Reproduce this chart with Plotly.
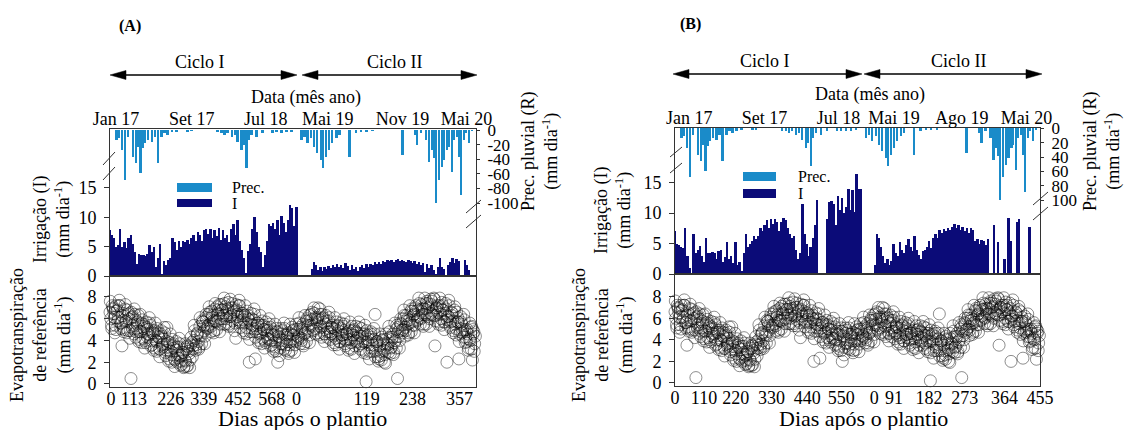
import plotly.graph_objects as go

W, H = 1124, 430
FONT = "Liberation Serif, Times New Roman, serif"
C_PREC = "#1A8BC9"
C_IRR = "#0B0B78"
C_LINE = "#333333"

# ---------------- DATA ----------------
# Day index counted from the start of the record (Jan 2017)
et_day_1 = list(range(0, 1221, 5))
et_value_1 = [
    6.6, 5.4, 7.0, 6.1, 5.0, 6.8, 7.2, 5.6, 3.5, 5.2,
    6.9, 5.8, 4.9, 6.5, 0.5, 6.2, 4.6, 5.9, 5.1, 6.3,
    4.8, 5.6, 4.2, 5.3, 3.8, 5.0, 4.5, 5.4, 3.6, 4.7,
    4.9, 3.9, 4.4, 3.2, 4.6, 3.6, 4.1, 2.9, 5.2, 3.4,
    3.8, 2.7, 3.5, 2.3, 3.1, 2.0, 3.4, 2.6, 1.8, 2.9,
    2.2, 3.2, 1.7, 2.8, 3.6, 2.5, 4.0, 3.3, 4.6, 3.9,
    5.3, 4.4, 5.7, 4.9, 6.1, 5.2, 6.4, 5.5, 6.7, 5.8,
    6.9, 5.7, 6.5, 7.3, 6.0, 6.8, 5.5, 7.1, 6.3, 7.5,
    6.2, 7.0, 5.8, 6.7, 4.2, 6.4, 7.2, 5.6, 6.5, 5.9,
    6.3, 5.2, 6.0, 2.0, 5.5, 4.8, 5.9, 2.3, 5.1, 5.6,
    4.6, 5.4, 4.2, 5.0, 3.8, 4.9, 4.1, 5.2, 3.6, 4.5,
    3.4, 4.8, 2.0, 4.3, 3.7, 4.9, 3.2, 4.5, 3.9, 4.7,
    3.6, 4.6, 4.1, 5.0, 3.9, 4.8, 4.3, 5.2, 4.0, 5.5,
    4.6, 5.8, 5.1, 6.3, 5.4, 6.6, 4.9, 6.1, 5.7, 7.0,
    6.4, 5.2, 6.0, 4.6, 5.5, 4.3, 5.8, 4.8, 5.2, 4.4,
    5.1, 4.2, 5.4, 3.9, 4.8, 4.5, 5.3, 3.7, 4.6, 4.1,
    4.9, 3.8, 4.5, 5.0, 4.0, 4.7, 3.5, 4.4, 5.1, 3.9,
    4.6, 0.2, 3.9, 3.6, 4.6, 3.0, 4.1, 6.4, 3.9, 2.5,
    3.5, 2.6, 4.0, 3.1, 1.9, 3.7, 2.9, 4.3, 3.4, 4.6,
    3.8, 5.0, 0.5, 4.4, 5.6, 4.9, 6.0, 5.2, 6.3, 5.5,
    5.9, 6.7, 5.4, 6.4, 7.0, 5.8, 6.8, 6.1, 7.3, 6.4,
    6.9, 7.4, 6.2, 7.1, 6.5, 7.6, 6.3, 3.5, 7.0, 6.6,
    7.2, 6.0, 6.8, 5.7, 6.5, 2.0, 6.2, 5.4, 6.6, 5.8,
    6.8, 5.1, 5.7, 2.3, 4.8, 5.5, 4.3, 5.0, 3.9, 4.6,
    4.1, 5.2, 2.2, 4.8, 4.4,
]
et_day_2 = [d + 2.5 for d in range(0, 1220, 5)]
et_value_2 = [
    6.0, 7.2, 6.5, 5.4, 6.7, 6.1, 7.2, 5.6, 6.5, 5.0,
    5.7, 6.8, 6.0, 4.9, 6.1, 5.4, 6.4, 4.8, 5.7, 4.1,
    4.8, 5.9, 5.1, 4.0, 5.2, 4.6, 5.6, 4.0, 4.9, 3.3,
    4.0, 5.1, 4.3, 3.2, 4.4, 3.7, 4.7, 3.1, 3.9, 2.3,
    3.0, 4.1, 3.3, 2.2, 3.4, 2.7, 3.7, 2.1, 2.9, 1.6,
    2.1, 3.5, 3.0, 2.2, 3.8, 3.5, 4.9, 3.6, 4.7, 3.4,
    4.5, 5.8, 5.3, 4.4, 5.9, 5.4, 6.6, 5.3, 6.3, 4.9,
    5.8, 7.1, 6.4, 5.5, 6.8, 6.3, 7.4, 6.0, 6.9, 5.5,
    6.2, 7.4, 6.6, 5.6, 6.8, 6.2, 7.2, 5.7, 6.5, 4.9,
    5.6, 6.7, 5.9, 4.8, 6.0, 5.4, 6.4, 4.8, 5.6, 4.0,
    4.7, 5.8, 5.0, 4.0, 5.2, 4.5, 5.5, 4.0, 4.8, 3.2,
    3.9, 5.1, 4.4, 3.3, 4.6, 4.0, 5.1, 3.6, 4.5, 3.0,
    3.9, 5.2, 4.5, 3.6, 5.0, 4.4, 5.6, 4.2, 5.1, 3.7,
    4.7, 6.0, 5.4, 4.5, 5.9, 5.3, 6.5, 5.1, 6.1, 4.7,
    5.3, 6.4, 5.7, 4.6, 5.8, 5.1, 6.1, 4.6, 5.4, 3.8,
    4.5, 5.7, 4.9, 3.9, 5.1, 4.5, 5.5, 4.0, 4.8, 3.3,
    4.1, 5.3, 4.5, 3.5, 4.8, 4.2, 5.2, 3.7, 4.6, 3.1,
    3.8, 4.9, 4.1, 3.0, 4.3, 3.6, 4.6, 3.0, 3.9, 2.3,
    3.0, 4.3, 3.7, 2.7, 4.1, 3.6, 4.8, 3.3, 4.3, 2.9,
    4.0, 5.4, 4.8, 4.0, 5.5, 5.0, 6.3, 4.9, 6.0, 4.7,
    5.6, 6.9, 6.3, 5.4, 6.7, 6.2, 7.4, 6.0, 6.9, 5.5,
    6.4, 7.6, 7.0, 6.0, 7.3, 6.7, 7.8, 6.3, 7.2, 5.7,
    6.4, 7.5, 6.8, 5.7, 6.9, 6.2, 7.2, 5.7, 6.5, 4.9,
    5.5, 6.6, 5.7, 4.6, 5.7, 5.0, 5.9, 4.3, 5.0, 3.3,
    4.0, 5.3, 4.6, 3.7,
]
et_day_3 = [d + 1 for d in range(0, 1220, 5)]
et_value_3 = [
    7.6, 5.1, 6.9, 4.7, 7.2, 5.8, 7.7, 5.1, 6.3, 4.8,
    7.3, 4.7, 6.4, 4.2, 6.6, 5.1, 6.9, 4.3, 5.5, 3.9,
    6.4, 3.8, 5.5, 3.3, 5.7, 4.3, 6.1, 3.5, 4.7, 3.1,
    5.6, 3.0, 4.7, 2.5, 4.9, 3.4, 5.2, 2.6, 3.7, 2.1,
    4.6, 2.0, 3.7, 1.6, 3.9, 2.4, 4.2, 1.7, 2.7, 1.5,
    3.7, 1.6, 3.4, 1.5, 4.3, 3.2, 5.4, 3.1, 4.5, 3.2,
    6.1, 3.7, 5.7, 3.7, 6.4, 5.1, 7.1, 4.8, 6.1, 4.7,
    7.4, 5.0, 6.8, 4.8, 7.3, 6.0, 7.9, 5.5, 6.7, 5.3,
    7.8, 5.3, 7.0, 4.9, 7.3, 5.9, 7.7, 5.2, 6.3, 4.7,
    7.2, 4.6, 6.3, 4.1, 6.5, 5.1, 6.9, 4.3, 5.4, 3.8,
    6.3, 3.7, 5.4, 3.3, 5.7, 4.2, 6.0, 3.5, 4.6, 3.0,
    5.5, 3.0, 4.8, 2.6, 5.1, 3.7, 5.6, 3.1, 4.3, 2.8,
    5.5, 3.1, 4.9, 2.9, 5.5, 4.1, 6.1, 3.7, 4.9, 3.5,
    6.3, 3.9, 5.8, 3.8, 6.4, 5.0, 7.0, 4.6, 5.9, 4.5,
    6.9, 4.3, 6.1, 3.9, 6.3, 4.8, 6.6, 4.1, 5.2, 3.6,
    6.1, 3.6, 5.3, 3.2, 5.6, 4.2, 6.0, 3.5, 4.6, 3.1,
    5.7, 3.2, 4.9, 2.8, 5.3, 3.9, 5.7, 3.2, 4.4, 2.9,
    5.4, 2.8, 4.5, 2.3, 4.8, 3.3, 5.1, 2.5, 3.7, 2.1,
    4.6, 2.2, 4.1, 2.0, 4.6, 3.3, 5.3, 2.8, 4.1, 2.7,
    5.6, 3.3, 5.2, 3.3, 6.0, 4.7, 6.8, 4.4, 5.8, 4.5,
    7.2, 4.8, 6.7, 4.7, 7.2, 5.9, 7.9, 5.5, 6.7, 5.3,
    7.9, 5.5, 7.4, 5.3, 7.8, 6.4, 7.9, 5.8, 7.0, 5.5,
    7.9, 5.4, 7.2, 5.0, 7.4, 5.9, 7.7, 5.2, 6.3, 4.7,
    7.1, 4.5, 6.1, 3.9, 6.2, 4.7, 6.4, 3.8, 4.8, 3.1,
    5.6, 3.2, 5.0, 3.0,
]

prec_day = [23, 30, 40, 50, 60, 77, 87, 93, 103, 110, 117, 127, 140, 150, 160,
            173, 183, 193, 207, 223, 260, 273, 360, 373, 383, 393, 407, 417,
            427, 440, 447, 457, 463, 473, 490, 510, 543, 557, 573, 590, 607,
            640, 650, 660, 673, 683, 693, 707, 713, 723, 733, 743, 757, 767,
            800, 823, 840, 857, 877, 977, 1020, 1027, 1040, 1057, 1067, 1077,
            1083, 1090, 1100, 1110, 1117, 1127, 1133, 1143, 1150, 1160, 1167,
            1173, 1183, 1190, 1200, 1210]
prec_mm = [14, 11, 27, 68, 9, 37, 45, 23, 59, 25, 18, 14, 16, 9, 45,
           9, 4, 7, 3, 2, 2, 1, 3, 4, 7, 4, 9, 7,
           16, 27, 21, 52, 14, 7, 9, 4, 4, 3, 4, 3, 2,
           14, 9, 18, 11, 23, 32, 41, 52, 37, 27, 18, 11, 7,
           37, 4, 2, 2, 1, 34, 7, 21, 4, 14, 44, 27,
           38, 100, 68, 51, 41, 27, 23, 58, 14, 9, 37,
           89, 14, 4, 18, 1]

# Irrigation, panel A (weekly steps, daily rate)
irr_a1_start = 0
irr_a1 = [7.8, 7.0, 6.5, 5.0, 5.2, 8.0, 5.0, 5.8, 4.8, 6.5,
          7.0, 5.5, 4.0, 2.0, 3.8, 3.5, 3.6, 3.4, 3.8, 5.2,
          4.0, 5.0, 1.5, 3.0, 5.5, 0.3, 2.5, 1.8, 2.8, 3.0,
          6.4, 5.8, 4.5, 6.0, 5.0, 6.0, 5.8, 6.2, 5.5, 6.5,
          7.0, 6.0, 7.5, 7.0, 6.0, 7.8, 8.0, 7.2, 8.0, 6.5,
          7.8, 6.8, 8.2, 6.2, 7.8, 6.5, 7.0, 5.8, 8.0, 8.8,
          7.0, 9.5, 6.0, 4.5, 3.0, 0.5, 4.2, 5.5, 8.0, 10.0,
          7.5, 5.0, 4.0, 1.5, 3.5, 6.0, 8.8, 8.5, 9.0, 8.0,
          9.5, 7.0, 10.2, 9.0, 7.5, 9.5, 12.0, 11.5, 8.5, 11.7]
irr_a2_start = 675
irr_a2 = [1.2, 2.3, 1.8, 1.0, 1.5, 0.8, 1.6, 1.2, 1.7, 1.4,
          1.8, 1.5, 2.0, 1.6, 1.9, 1.4, 2.2, 1.7, 1.0, 1.8,
          1.2, 1.5, 0.9, 1.6, 1.8, 1.3, 2.0, 1.6, 2.1, 1.8,
          2.3, 2.0, 2.4, 2.1, 2.6, 2.3, 2.7, 2.5, 2.8, 2.4,
          2.7, 2.9, 2.5, 2.8, 2.6, 2.3, 2.8, 2.5, 2.2, 2.6,
          2.0, 2.3, 1.8, 2.2, 0.6, 2.0, 1.4, 1.8, 1.0, 0.3,
          1.6, 3.0, 1.5, 1.2, 0.0, 1.8, 2.4, 3.0, 2.2, 2.9,
          2.6, 0.0, 0.0, 2.7, 1.8, 1.0]

# Irrigation, panel B
irr_b1_start = 0
irr_b1 = [7.0, 5.0, 4.8, 4.5, 4.3, 7.5, 3.0, 1.0, 0.0, 6.5,
          3.5, 4.0, 4.6, 3.0, 2.0, 6.0, 3.5, 3.4, 3.6, 3.5,
          2.5, 3.8, 4.0, 2.0, 2.8, 5.3, 2.5, 3.0, 1.8, 5.3,
          1.5, 2.0, 0.5, 3.5, 6.5, 4.5, 5.0, 5.5, 6.2, 5.8,
          6.3, 7.6, 7.0, 8.0, 8.8, 7.5, 9.0, 8.2, 9.0, 8.5,
          7.0, 8.5, 9.2, 8.8, 7.5, 6.5, 6.0, 6.2, 4.0, 2.5,
          3.5, 11.5, 6.5, 5.0, 3.0, 4.5, 6.0, 8.0, 12.2, 0.0,
          0.0, 0.0, 0.0, 9.0, 11.8, 12.0, 11.5, 8.0, 12.8, 10.5,
          12.5, 10.0, 11.0, 14.0, 10.5, 13.8, 10.2, 16.5, 14.0, 14.0]
irr_b2_start = 670
irr_b2 = [1.5, 6.5, 6.0, 4.5, 3.0, 1.8, 2.5, 1.5, 2.2, 5.0,
          3.5, 3.0, 5.2, 4.0, 3.5, 4.8, 5.8, 4.5, 3.8, 6.2,
          4.0, 3.2, 2.5, 3.8, 4.0, 4.5, 5.5, 4.2, 6.0, 6.5,
          6.0, 7.2, 6.8, 7.4, 7.0, 7.5, 7.2, 7.8, 8.2, 7.6,
          8.0, 7.2, 7.8, 7.0, 7.6, 6.8, 7.5, 7.2, 5.5, 5.8,
          5.0, 5.6, 5.5, 4.8, 5.8, 0.0, 0.0, 8.0, 0.0, 5.3,
          0.0, 0.0, 2.5, 0.0, 9.2, 5.5, 0.0, 0.0, 8.5, 9.0,
          0.0, 0.0, 0.0, 0.0, 7.8]

IRR_STEP = 7

# Axis tick labels
top_a_pos = [20, 273, 520, 727, 977, 1190]
top_a_txt = ["Jan 17", "Set 17", "Jul 18", "Mai 19", "Nov 19", "Mai 20"]
bot_a_pos = [3, 80, 203, 313, 427, 540, 623, 857, 1010, 1167]
bot_a_txt = ["0", "113", "226", "339", "452", "568", "0", "119", "238", "357"]
top_b_pos = [48, 300, 547, 733, 960, 1177]
top_b_txt = ["Jan 17", "Set 17", "Jul 18", "Mai 19", "Ago 19", "Mai 20"]
bot_b_pos = [0, 97, 203, 323, 443, 557, 667, 733, 850, 970, 1103, 1222]
bot_b_txt = ["0", "110", "220", "330", "440", "550", "0", "91", "182", "273", "364", "455"]
prec_ticks = [0, 20, 40, 60, 80, 100]
prec_txt_a = ["0", "-20", "-40", "-60", "-80", "-100"]
prec_txt_b = ["0", "20", "40", "60", "80", "100"]


def X(px):
    return px / W


def Y(py):
    return 1 - py / H


def days(start, n):
    return [start + IRR_STEP * i for i in range(n)]


fig = go.Figure()

panels = [
    dict(left=110, right=476, top=129, mid=276, bot=387,
         irr=[(irr_a1_start, irr_a1), (irr_a2_start, irr_a2)], irr_max=25,
         prec_rng=[200, -1.4], et_rng=[-0.28, 9.93],
         top_pos=top_a_pos, top_txt=top_a_txt, bot_pos=bot_a_pos, bot_txt=bot_a_txt,
         prec_txt=prec_txt_a, ax=["", "2", "3"], xa=["", "2"]),
    dict(left=675, right=1040, top=128, mid=274, bot=386,
         irr=[(irr_b1_start, irr_b1), (irr_b2_start, irr_b2)], irr_max=24,
         prec_rng=[203, -0.6], et_rng=[-0.28, 10.1],
         top_pos=top_b_pos, top_txt=top_b_txt, bot_pos=bot_b_pos, bot_txt=bot_b_txt,
         prec_txt=prec_txt_b, ax=["4", "5", "6"], xa=["3", "4"]),
]

tickfont = dict(family=FONT, size=18, color="black")
layout = dict(
    template="none",
    width=W, height=H, margin=dict(l=0, r=0, t=0, b=0, autoexpand=False),
    paper_bgcolor="white", plot_bgcolor="white", showlegend=False,
    font=dict(family=FONT, size=18, color="black"), bargap=0,
)

et_x = et_day_1 + et_day_2 + et_day_3
et_y = et_value_1 + et_value_2 + et_value_3

for p in panels:
    xu, xe = p["xa"]
    yi, yp, ye = p["ax"]
    dom_x = [X(p["left"]), X(p["right"])]
    fig.add_trace(go.Bar(x=prec_day, y=prec_mm, width=6, marker_color=C_PREC,
                         marker_line_width=0, xaxis="x" + xu, yaxis="y" + yp))
    for start, vals in p["irr"]:
        fig.add_trace(go.Bar(x=days(start, len(vals)), y=vals, width=6.4,
                             marker_color=C_IRR, marker_line_width=0,
                             xaxis="x" + xu, yaxis="y" + yi))
    fig.add_trace(go.Scatter(x=et_x, y=et_y, mode="markers", cliponaxis=False,
                             marker=dict(symbol="circle-open", size=12,
                                         color="rgba(0,0,0,0.75)", line=dict(width=0.6)),
                             xaxis="x" + xe, yaxis="y" + ye))
    common_axis = dict(showgrid=False, zeroline=False, showline=True, mirror=True,
                       linecolor=C_LINE, linewidth=1, tickfont=tickfont, automargin=False)
    layout["xaxis" + xu] = dict(common_axis, domain=dom_x, anchor="y" + yi, side="top",
                                range=[0, 1222], tickmode="array", tickvals=p["top_pos"],
                                ticktext=p["top_txt"], ticks="", ticklabelstandoff=-4)
    layout["xaxis" + xe] = dict(common_axis, domain=dom_x, anchor="y" + ye, side="bottom",
                                range=[0, 1222], tickmode="array", tickvals=p["bot_pos"],
                                ticktext=p["bot_txt"], ticks="", ticklabelstandoff=-5)
    layout["yaxis" + yi] = dict(common_axis, domain=[Y(p["mid"]), Y(p["top"])],
                                anchor="x" + xu, range=[0, p["irr_max"]],
                                tickvals=[0, 5, 10, 15], ticks="outside", ticklen=5,
                                tickcolor=C_LINE, ticklabelstandoff=4)
    layout["yaxis" + yp] = dict(showgrid=False, zeroline=False, showline=False, automargin=False,
                                overlaying="y" + yi, side="right", anchor="x" + xu,
                                range=p["prec_rng"], tickvals=prec_ticks,
                                ticktext=p["prec_txt"], ticks="outside", ticklen=3,
                                tickcolor=C_LINE, tickfont=dict(family=FONT, size=17, color="black"),
                                ticklabelstandoff=4)
    layout["yaxis" + ye] = dict(common_axis, domain=[Y(p["bot"]), Y(p["mid"])],
                                anchor="x" + xe, range=p["et_rng"],
                                tickvals=[0, 2, 4, 6, 8], ticks="outside", ticklen=5,
                                tickcolor=C_LINE, ticklabelstandoff=4)

shapes = []
annotations = []


def txt(x, y, s, size=18, angle=0, xanchor="center"):
    annotations.append(dict(x=X(x), y=Y(y), xref="paper", yref="paper", text=s,
                            showarrow=False, textangle=angle, xanchor=xanchor,
                            yanchor="middle",
                            font=dict(family=FONT, size=size, color="black")))


def line(x0, y0, x1, y1, w=1.0, color="#333"):
    shapes.append(dict(type="line", xref="paper", yref="paper", x0=X(x0), y0=Y(y0),
                       x1=X(x1), y1=Y(y1), line=dict(color=color, width=w)))


def tri(xt, y, direction, L=16, h=4.5):
    xb = xt + L * direction
    path = "M{:.5f},{:.5f} L{:.5f},{:.5f} L{:.5f},{:.5f} Z".format(
        X(xt), Y(y), X(xb), Y(y - h), X(xb), Y(y + h))
    shapes.append(dict(type="path", xref="paper", yref="paper", path=path,
                       fillcolor="black", line=dict(color="black", width=0.5)))


def arrow(x0, x1, y):
    line(x0 + 4, y, x1 - 4, y, w=1.5, color="black")
    tri(x0, y, 1)
    tri(x1, y, -1)


def rect(x0, y0, x1, y1, color):
    shapes.append(dict(type="rect", xref="paper", yref="paper", x0=X(x0), y0=Y(y1),
                       x1=X(x1), y1=Y(y0), fillcolor=color, line=dict(width=0)))


sup = "(mm dia<sup>-1</sup>)"
# Panel A decorations
txt(130, 26, "<b>(A)</b>", size=16)
txt(200, 62, "Ciclo I")
txt(395, 62, "Ciclo II")
arrow(110, 297, 75)
arrow(302, 477, 75)
txt(306, 97, "Data (mês ano)")
txt(302, 418, "Dias após o plantio", size=22)
txt(52, 219, "Irrigação (I)<br>" + sup, angle=-90)
txt(41, 335, "Evapotranspiração<br>de referência<br>" + sup, angle=-90)
txt(540, 152, "Prec. pluvial (R)<br>" + sup, angle=-90)
rect(177, 183, 212, 192, C_PREC)
rect(177, 199, 212, 207, C_IRR)
txt(230, 187, "Prec.", size=16, xanchor="left")
txt(230, 203, "I", size=16, xanchor="left")
line(103, 165, 115, 152)
line(103, 180, 115, 167)
line(466, 213, 481, 200)
line(466, 228, 481, 215)

# Panel B decorations
txt(690, 24, "<b>(B)</b>", size=16)
txt(765, 61, "Ciclo I")
txt(959, 61, "Ciclo II")
arrow(673, 862, 74)
arrow(864, 1042, 74)
txt(870, 94, "Data (mês ano)")
txt(863, 418, "Dias após o plantio", size=22)
txt(613, 211, "Irrigação (I)<br>" + sup, angle=-90)
txt(603, 335, "Evapotranspiração<br>de referência<br>" + sup, angle=-90)
txt(1102, 152, "Prec. pluvial (R)<br>" + sup, angle=-90)
rect(743, 172, 776, 181, C_PREC)
rect(743, 189, 776, 198, C_IRR)
txt(796, 176, "Prec.", size=16, xanchor="left")
txt(796, 193, "I", size=16, xanchor="left")
line(670, 157, 682, 147)
line(670, 173, 682, 163)
line(1033, 205, 1048, 192)
line(1033, 220, 1048, 207)

layout["shapes"] = shapes
layout["annotations"] = annotations
fig.update_layout(**layout)
fig.write_html("out.html")
